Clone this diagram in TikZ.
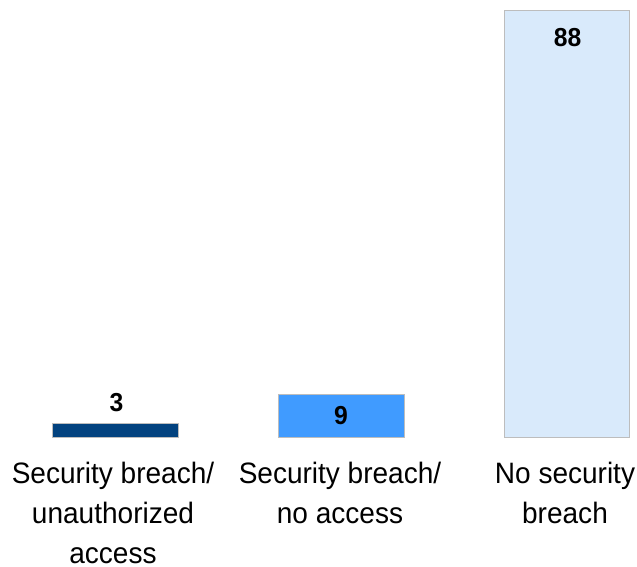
\documentclass[tikz,border=0pt]{standalone}
\usepackage{fontspec}
\setmainfont{Liberation Sans}[FakeStretch=0.95]
\definecolor{barA}{HTML}{02427F}
\definecolor{barB}{HTML}{409BFF}
\definecolor{barC}{HTML}{D9EAFB}
\definecolor{barEdge}{HTML}{BDBDBD}
\begin{document}
\begin{tikzpicture}[x=1pt,y=-1pt,
  bar/.style={draw=barEdge, line width=1pt},
  val/.style={anchor=base, inner sep=0pt, font=\fontsize{26}{30}\selectfont\bfseries},
  cat/.style={anchor=north, inner sep=0pt, align=center, font=\fontsize{29.5}{40}\selectfont}]
\useasboundingbox (0,0) rectangle (637,566);
\fill[white] (0,0) rectangle (637,566);
\path[bar, fill=barA] (52.5,423.5) rectangle (178,437.5) coordinate (b1);
\path[bar, fill=barB] (278,394) rectangle (404,437.5) coordinate (b2);
\path[bar, fill=barC] (504,10) rectangle (629.5,437.5) coordinate (b3);
\node[val] (v1) at (116.5,411) {3};
\node[val] (v2) at (341,424.5) {9};
\node[val] (v3) at (567.5,46.5) {88};
\node[cat] (c1) at (113,461.5) {Security breach/\\unauthorized\\access};
\node[cat] (c2) at (340,461.5) {Security breach/\\no access};
\node[cat] (c3) at (565,461.5) {No security\\breach};
\end{tikzpicture}
\end{document}
